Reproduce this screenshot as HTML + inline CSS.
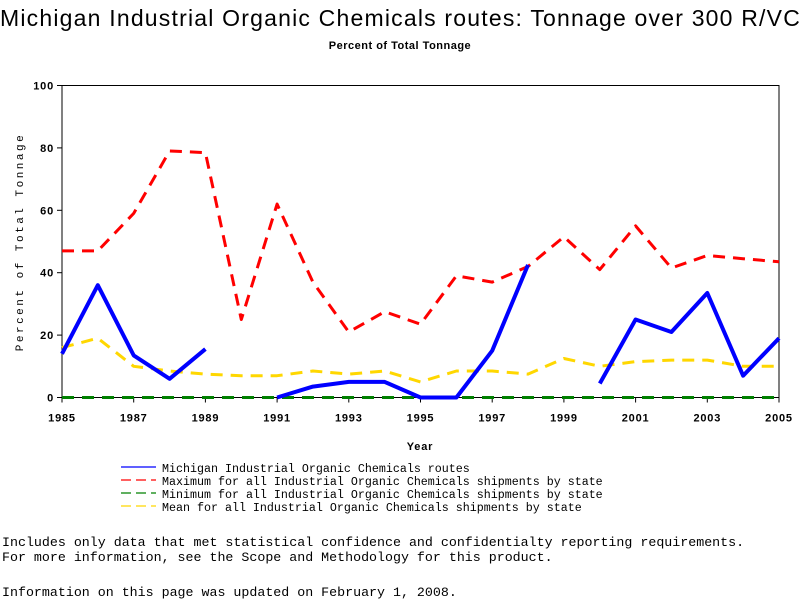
<!DOCTYPE html>
<html><head><meta charset="utf-8"><style>
body{margin:0;width:800px;height:600px;background:#fff;overflow:hidden;position:relative;font-family:"Liberation Sans",sans-serif}
.t{position:absolute;white-space:pre;color:#000}
.mono{font-family:"Liberation Mono",monospace}
</style></head><body>
<div class="t" style="left:0;top:5px;width:800px;text-align:center;font-size:23px;letter-spacing:1.2px">Michigan Industrial Organic Chemicals routes: Tonnage over 300 R/VC</div>
<div class="t" style="left:0;top:40px;width:800px;text-align:center;font-size:11px;font-weight:bold;letter-spacing:0.5px">Percent of Total Tonnage</div>
<svg id="chart" width="800" height="600" style="position:absolute;left:0;top:0"></svg>
<div class="t mono" style="left:2px;top:535px;font-size:13.3px">Includes only data that met statistical confidence and confidentialty reporting requirements.
For more information, see the Scope and Methodology for this product.</div>
<div class="t mono" style="left:2px;top:585px;font-size:13.3px">Information on this page was updated on February 1, 2008.</div>
<script>
const years=[1985,1986,1987,1988,1989,1990,1991,1992,1993,1994,1995,1996,1997,1998,1999,2000,2001,2002,2003,2004,2005];
const michigan=[14,36,13.5,6,15.5,null,0,3.5,5,5,0,0,15,42.5,null,4.5,25,21,33.5,7,19];
const maximum=[47,47,59,79,78.5,25,62,37,21,27.5,23.5,39,37,42,51.5,41,55,41.5,45.5,44.5,43.5];
const minimum=[0,0,0,0,0,0,0,0,0,0,0,0,0,0,0,0,0,0,0,0,0];
const mean=[16,19,10,8.5,7.5,7,7,8.5,7.5,8.5,5,8.5,8.5,7.5,12.5,10,11.5,12,12,10,10];
const yTicks=[0,20,40,60,80,100];
const xTicks=[1985,1987,1989,1991,1993,1995,1997,1999,2001,2003,2005];
const legendLabels=["Michigan Industrial Organic Chemicals routes","Maximum for all Industrial Organic Chemicals shipments by state","Minimum for all Industrial Organic Chemicals shipments by state","Mean for all Industrial Organic Chemicals shipments by state"];

const L=62,R=779,T=85.5,B=397.5;
const xs=y=>L+(y-1985)/(2005-1985)*(R-L);
const ys=v=>B-v/100*(B-T);
const svg=document.getElementById('chart');
const NS='http://www.w3.org/2000/svg';
function mk(tag,attrs){const e=document.createElementNS(NS,tag);for(const k in attrs)e.setAttribute(k,attrs[k]);svg.appendChild(e);return e;}

const frame=mk('rect',{x:L,y:T,width:R-L,height:B-T,fill:'none',stroke:'#000','stroke-width':1});



yTicks.forEach(v=>{
  const tk=mk('line',{x1:L-5,x2:L,y1:ys(v),y2:ys(v),stroke:'#000'});
  
  
  const t=mk('text',{x:L-8,y:ys(v)+4,'text-anchor':'end','font-size':11,'font-weight':'bold','letter-spacing':0.8,'font-family':'Liberation Sans, sans-serif'});
  t.textContent=v;
  
  
});
xTicks.forEach(v=>{
  const tk=mk('line',{x1:xs(v),x2:xs(v),y1:B,y2:B+5,stroke:'#000'});
  
  
  const t=mk('text',{x:xs(v),y:B+24,'text-anchor':'middle','font-size':11,'font-weight':'bold','letter-spacing':0.8,'font-family':'Liberation Sans, sans-serif'});
  t.textContent=v;
  
  
});
const xt=mk('text',{x:420,y:450,'text-anchor':'middle','font-size':11,'font-weight':'bold','letter-spacing':0.8,'font-family':'Liberation Sans, sans-serif'});
xt.textContent='Year';


const yt=mk('text',{x:0,y:0,'text-anchor':'middle','font-size':11,'letter-spacing':2.5,'font-family':'Liberation Mono, monospace',transform:'translate(23,242) rotate(-90)'});
yt.textContent='Percent of Total Tonnage';



function series(vals,color,width,dash,name){
  let d='',pen=false;
  vals.forEach((v,i)=>{
    if(v===null){pen=false;return;}
    d+=(pen?'L':'M')+xs(years[i]).toFixed(1)+' '+ys(v).toFixed(1)+' ';pen=true;
  });
  const p=mk('path',{d:d,fill:'none',stroke:color,'stroke-width':width,'stroke-dasharray':dash||'none','stroke-linejoin':'round'});
  
  
}
series(minimum,'#008000',3,'12,8','minimum-line');
series(mean,'#FFD700',3,'12,8','mean-line');
series(maximum,'#FF0000',3,'12,8','maximum-line');
series(michigan,'#0000FF',4,null,'michigan-line');

const lc=['#0000FF','#FF0000','#008000','#FFD700'];
const ld=['none','10,5','10,5','10,5'];
legendLabels.forEach((lab,i)=>{
  const y=467+i*13;
  const ln=mk('line',{x1:121,x2:156,y1:y,y2:y,stroke:lc[i],'stroke-width':1.3,'stroke-dasharray':ld[i]});
  
  
  const t=mk('text',{x:162,y:y+5,'font-size':11.67,'font-family':'Liberation Mono, monospace'});
  t.textContent=lab;
  
  
});
</script>
</body></html>
